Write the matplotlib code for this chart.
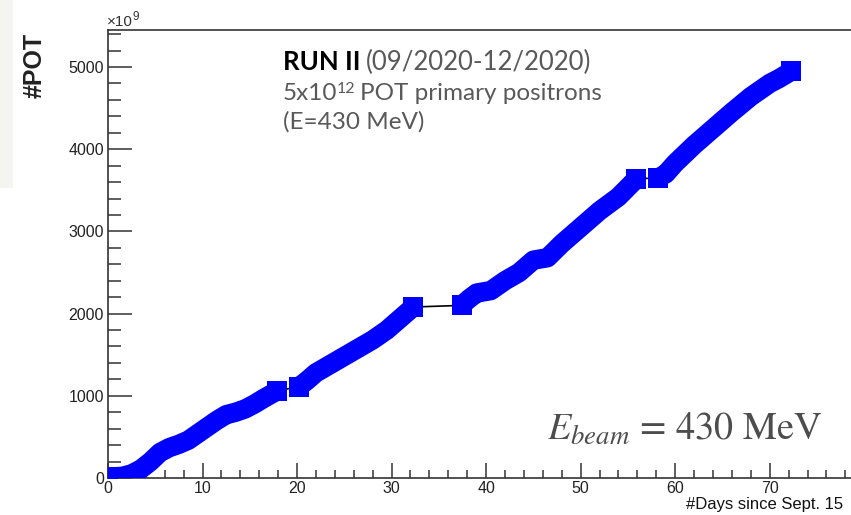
import numpy as np
import matplotlib
matplotlib.use("Agg")
import matplotlib.pyplot as plt
from matplotlib.patches import Rectangle
from matplotlib.ticker import MultipleLocator

# Accumulated POT (units of 1e9) vs days since Sept. 15
seg1_days = [0, 1.5, 2.5, 3.5, 4.5, 5.5, 6.5, 7.5, 8.5, 9.5, 10.5, 11.5, 12.5,
             13.5, 14.5, 15.5, 16.5, 17.9]
seg1_pot = [10, 20, 50, 110, 200, 310, 370, 410, 460, 540, 620, 700, 770,
            800, 840, 900, 970, 1060]
seg2_days = [20.2, 21, 22, 23.5, 25, 26.5, 28, 29.5, 31, 32.3]
seg2_pot = [1110, 1180, 1280, 1380, 1480, 1580, 1680, 1800, 1950, 2080]
seg3_days = [37.4, 38.2, 39, 40.5, 42, 43.5, 45, 46.5, 48, 50, 52, 54, 55.9]
seg3_pot = [2100, 2180, 2250, 2280, 2400, 2500, 2650, 2680, 2850, 3050, 3250,
            3420, 3640]
seg4_days = [58.2, 59, 60, 62, 64, 66, 68, 70, 71, 72.3]
seg4_pot = [3650, 3700, 3830, 4050, 4250, 4450, 4640, 4800, 4860, 4950]

segments = [(seg1_days, seg1_pot), (seg2_days, seg2_pot),
            (seg3_days, seg3_pot), (seg4_days, seg4_pot)]

W, H = 851, 515
fig = plt.figure(figsize=(W / 100, H / 100), dpi=100)
fig.patch.set_facecolor("white")
plt.rcParams["mathtext.fontset"] = "stix"

# light grey strip at the top left of the slide
fig.patches.append(Rectangle((0, 1 - 188 / H), 13 / W, 188 / H,
                             transform=fig.transFigure, facecolor="#f4f4f1",
                             edgecolor="none", zorder=0))

ax = fig.add_axes([108 / W, 37 / H, 1 - 108 / W, (478 - 30) / H])

# thin black line through all points (visible in the gaps)
all_days = seg1_days + seg2_days + seg3_days + seg4_days
all_pot = seg1_pot + seg2_pot + seg3_pot + seg4_pot
ax.plot(all_days, all_pot, color="black", lw=1.2, zorder=2)

for d, p in segments:
    ax.plot(d, p, color="#0000ff", lw=14, solid_capstyle="butt",
            solid_joinstyle="round", marker="s", markersize=14,
            markevery=[0, len(d) - 1], markeredgewidth=0, zorder=3)

ax.set_xlim(0, 78.6)
ax.set_ylim(0, 5450)

ax.xaxis.set_major_locator(MultipleLocator(10))
ax.xaxis.set_minor_locator(MultipleLocator(2))
ax.yaxis.set_major_locator(MultipleLocator(1000))
ax.yaxis.set_minor_locator(MultipleLocator(200))

ax.tick_params(which="both", direction="in", colors="#333333",
               labelcolor="#222222", labelsize=11.5, width=1.1)
ax.tick_params(axis="y", which="major", length=17, pad=3)
ax.tick_params(axis="y", which="minor", length=9)
ax.tick_params(axis="x", which="major", length=11, pad=2)
ax.tick_params(axis="x", which="minor", length=6)
ax.tick_params(top=False, right=False, which="both")

for name in ["left", "bottom", "top"]:
    ax.spines[name].set_color("#333333")
    ax.spines[name].set_linewidth(1.2)
ax.spines["right"].set_visible(False)

for lab in ax.get_xticklabels() + ax.get_yticklabels():
    lab.set_family("Liberation Sans")

renderer = fig.canvas.get_renderer()


def put(x, ypx, s, family="Lato", **kw):
    t = fig.text(x, 1 - ypx / H, s, va="baseline", family=family, **kw)
    bb = t.get_window_extent(renderer=renderer)
    return bb.x1 / W


# axis titles, ROOT style
fig.text(35 / W, 1 - 65 / H, "#POT", rotation=90, ha="center", va="center",
         fontsize=18, fontweight="bold", family="Liberation Sans",
         color="#222222")
x = put(107 / W, 26, "\u00d710", family="Liberation Sans", fontsize=11,
        color="#333333")
put(x, 20, "9", family="Liberation Sans", fontsize=8.5, color="#333333")
fig.text(843 / W, 1 - 509 / H, "#Days since Sept. 15", ha="right",
         va="baseline", fontsize=12, family="Liberation Sans",
         color="#111111")

# run info box, laid out piece by piece
grey = "#595959"
x0 = 283 / W
x = put(x0, 70, "RUN II", fontsize=18.5, fontweight="bold", color="black")
put(x + 5 / W, 70, "(09/2020-12/2020)", fontsize=18.5, color=grey)
x = put(x0, 100, "5x10", fontsize=17.5, color=grey)
x = put(x - 1 / W, 93, "12", fontsize=11.5, color=grey)
put(x + 5 / W, 100, "POT primary positrons", fontsize=17.5, color=grey)
put(x0, 129, "(E=430 MeV)", fontsize=17.5, color=grey)

# beam energy label
fig.text(822 / W, 1 - 440 / H, r"$E_{beam}$ = 430 MeV", ha="right",
         va="baseline", fontsize=27.5, family="STIXGeneral", color="#4d4d4d")

fig.savefig("out.png", dpi=100)
